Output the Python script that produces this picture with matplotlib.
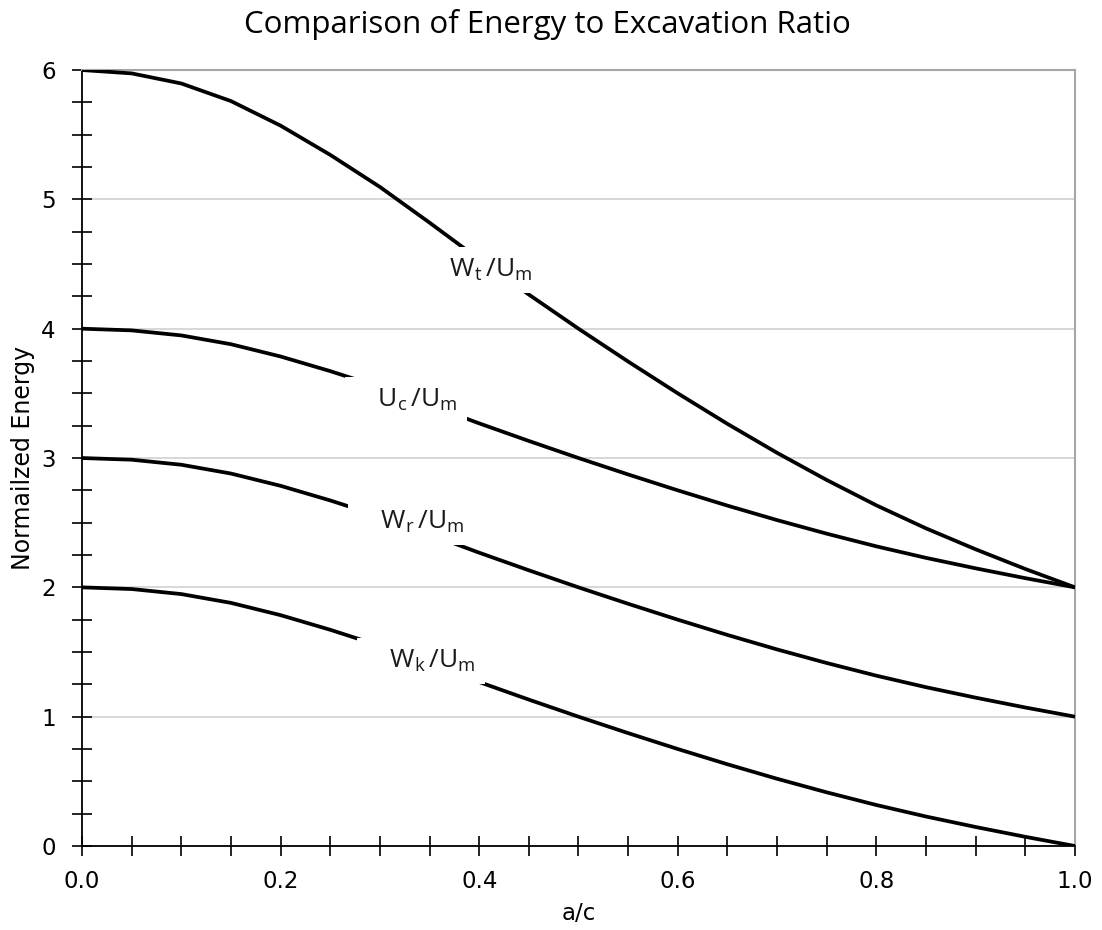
import matplotlib
matplotlib.use("Agg")
import matplotlib.pyplot as plt
from matplotlib.ticker import MultipleLocator, FormatStrFormatter

plt.rcParams["font.family"] = "DejaVu Sans"
plt.rcParams["mathtext.fontset"] = "custom"
plt.rcParams["mathtext.rm"] = "Open Sans"
plt.rcParams["mathtext.it"] = "Open Sans:italic"
plt.rcParams["mathtext.bf"] = "Open Sans:bold"

# normalized crack size a/c
a_over_c = [0.00, 0.05, 0.10, 0.15, 0.20, 0.25, 0.30, 0.35, 0.40, 0.45, 0.50,
            0.55, 0.60, 0.65, 0.70, 0.75, 0.80, 0.85, 0.90, 0.95, 1.00]

# energies normalized by U_m
wt_um = [6.000, 5.974, 5.896, 5.760, 5.570, 5.344, 5.096, 4.820, 4.536, 4.264, 4.000,
         3.746, 3.500, 3.264, 3.040, 2.830, 2.634, 2.456, 2.294, 2.142, 2.000]
uc_um = [4.000, 3.987, 3.948, 3.880, 3.785, 3.672, 3.548, 3.410, 3.268, 3.132, 3.000,
         2.873, 2.750, 2.632, 2.520, 2.415, 2.317, 2.228, 2.147, 2.071, 2.000]
wr_um = [3.000, 2.987, 2.948, 2.880, 2.785, 2.672, 2.548, 2.410, 2.268, 2.132, 2.000,
         1.873, 1.750, 1.632, 1.520, 1.415, 1.317, 1.228, 1.147, 1.071, 1.000]
wk_um = [2.000, 1.987, 1.948, 1.880, 1.785, 1.672, 1.548, 1.410, 1.268, 1.132, 1.000,
         0.873, 0.750, 0.632, 0.520, 0.415, 0.317, 0.228, 0.147, 0.071, 0.000]

curve_labels = [r"$\mathrm{\quad W_t\,/U_m}$",
                r"$\mathrm{\quad U_c\,/U_m}$",
                r"$\mathrm{\quad W_r\,/U_m}$",
                r"$\mathrm{\quad W_k\,/U_m}$"]

fig = plt.figure(figsize=(11.02, 9.30), dpi=100)
ax = fig.add_axes([0.0744, 0.0903, 0.9011, 0.8344])

for series in (wt_um, uc_um, wr_um, wk_um):
    ax.plot(a_over_c, series, color="black", lw=2.7, solid_capstyle="butt",
            solid_joinstyle="round", zorder=3)

# inline labels sit on white boxes that cut the curves
label_pos = [(0.454, 4.40), (0.378, 3.397), (0.385, 2.451), (0.396, 1.376)]
for text, (x, y) in zip(curve_labels, label_pos):
    ax.text(x, y, text, ha="right", va="baseline", fontsize=19, color="#1a1a1a",
            zorder=4, bbox=dict(facecolor="white", edgecolor="none", pad=7))

ax.set_xlim(0, 1)
ax.set_ylim(0, 6)
ax.xaxis.set_major_locator(MultipleLocator(0.2))
ax.xaxis.set_minor_locator(MultipleLocator(0.05))
ax.xaxis.set_major_formatter(FormatStrFormatter("%.1f"))
ax.yaxis.set_major_locator(MultipleLocator(1))
ax.yaxis.set_minor_locator(MultipleLocator(0.25))

ax.tick_params(which="both", direction="inout", length=14, width=1.2,
               color="black", top=False, right=False)
ax.tick_params(axis="x", which="major", labelsize=16.5, pad=10)
ax.tick_params(axis="y", which="major", labelsize=16.5, pad=12)

ax.yaxis.grid(True, which="major", color="#d4d4d4", lw=1.3)
ax.set_axisbelow(True)

for side in ("top", "right"):
    ax.spines[side].set_color("#a6a6a6")
    ax.spines[side].set_linewidth(1.5)
for side in ("left", "bottom"):
    ax.spines[side].set_color("black")
    ax.spines[side].set_linewidth(1.3)

ax.set_xlabel("a/c", fontsize=16.5, labelpad=7)
ax.set_ylabel("Normailzed Energy", fontsize=17, labelpad=4)

fig.text(0.497, 0.9645, "Comparison of Energy to Excavation Ratio",
         ha="center", va="baseline", fontsize=22.5, family="Open Sans")

fig.savefig("out.png", dpi=100, facecolor="white")
